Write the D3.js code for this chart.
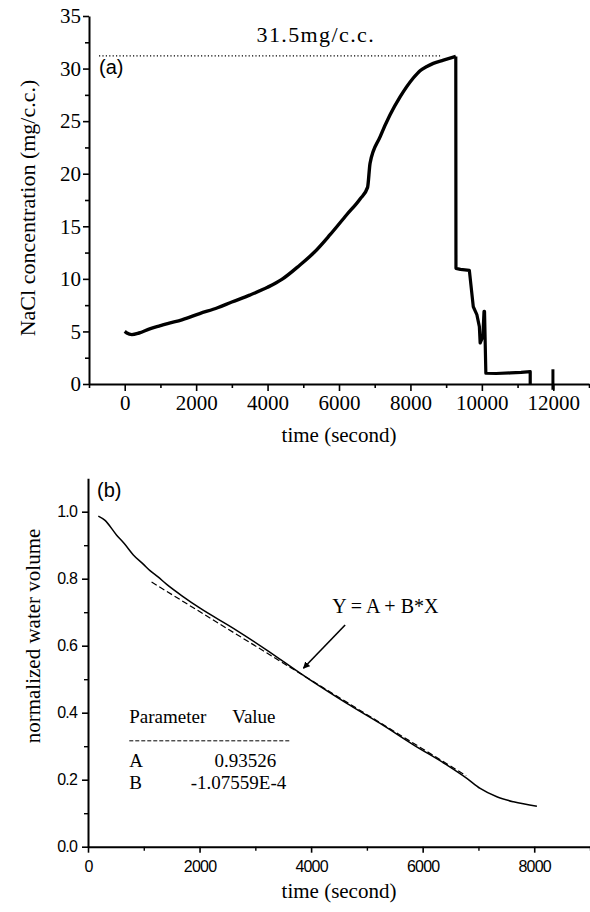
<!DOCTYPE html>
<html>
<head>
<meta charset="utf-8">
<script src="https://cdn.jsdelivr.net/npm/d3@7"></script>
<style>
  body { margin: 0; background: #fff; }
  svg { display: block; }
  .serif { font-family: "Liberation Serif", "Times New Roman", serif; }
  .sans { font-family: "Liberation Sans", Arial, sans-serif; }
</style>
</head>
<body>
<div id="chart"></div>
<script>
// (a) NaCl concentration vs time, [time s, mg/c.c.]
const naclRise = [
  [0, 5.0], [60, 4.85], [200, 4.7], [400, 4.85], [700, 5.25], [1000, 5.55],
  [1200, 5.75], [1600, 6.1], [2100, 6.7], [2600, 7.25], [3000, 7.8], [3500, 8.45],
  [4000, 9.2], [4400, 9.95], [4900, 11.3], [5300, 12.5], [5750, 14.2], [6215, 16.1],
  [6590, 17.6], [6800, 18.7], [6870, 21.0], [7150, 23.5], [7430, 25.6], [7710, 27.3],
  [8080, 29.1], [8270, 29.8], [8460, 30.2], [8640, 30.5], [8925, 30.8], [9270, 31.15]
];
const naclFall = [
  [9270, 31.15], [9275, 11.0], [9400, 10.9], [9650, 10.8], [9760, 7.35], [9860, 6.6],
  [9930, 5.45], [9952, 3.9], [10028, 4.5], [10060, 6.9], [10075, 6.9], [10112, 1.02],
  [10400, 1.0], [10800, 1.05], [11100, 1.1], [11354, 1.17], [11354, -0.1]
];
const naclStub = [[11990, 1.4], [11990, -0.55]];
const naclPeak = 31.2;
const naclPeakLabel = "31.5mg/c.c.";
const naclXMajor = [0, 2000, 4000, 6000, 8000, 10000, 12000];
const naclXMinor = [-1000, 1000, 3000, 5000, 7000, 9000, 11000, 13000];
const naclYMajor = [0, 5, 10, 15, 20, 25, 30, 35];
const naclYMinor = [2.5, 7.5, 12.5, 17.5, 22.5, 27.5, 32.5];

// (b) normalized water volume vs time
const volMeasured = [
  [185, 0.987], [300, 0.975], [514, 0.930], [650, 0.905], [813, 0.871], [1000, 0.842],
  [1112, 0.824], [1250, 0.806], [1411, 0.783], [1710, 0.746], [2009, 0.712], [2607, 0.652],
  [3205, 0.587], [3803, 0.518], [3982, 0.498], [4640, 0.428], [5238, 0.368], [5835, 0.304],
  [6433, 0.244], [6792, 0.204], [7031, 0.174], [7330, 0.149], [7629, 0.134], [8048, 0.121]
];
const volFit = [[1140, 0.790], [6780, 0.212]];
const fitParams = ["A", "B"];
const fitValues = ["0.93526", "-1.07559E-4"];
const volXMajor = [0, 2000, 4000, 6000, 8000];
const volXMinor = [1000, 3000, 5000, 7000, 9000];
const volYMajor = [0, 0.2, 0.4, 0.6, 0.8, 1.0];
const volYMinor = [0.1, 0.3, 0.5, 0.7, 0.9];

const width = 590, height = 912;
const svg = d3.select("#chart").append("svg")
    .attr("width", width)
    .attr("height", height);

function styleAxis(g, w) {
  g.attr("font-family", null);
  g.select(".domain").attr("stroke", "#000").attr("stroke-width", w);
  g.selectAll(".tick line").attr("stroke", "#000").attr("stroke-width", 1.6);
  g.selectAll(".tick text").attr("fill", "#000");
}

// ---------- panel (a)
const xa = d3.scaleLinear().domain([-1000, 13000]).range([89, 589]);
const ya = d3.scaleLinear().domain([0, 35]).range([384, 16]);

const gxa = svg.append("g")
    .attr("transform", `translate(0,${ya(0)})`)
    .attr("class", "serif")
    .call(d3.axisBottom(xa).tickValues(naclXMajor).tickFormat(d3.format("d"))
      .tickSize(7).tickPadding(4).tickSizeOuter(0))
    .style("font-size", "21px");
styleAxis(gxa, 2);
svg.append("g")
    .attr("transform", `translate(0,${ya(0)})`)
    .call(d3.axisBottom(xa).tickValues(naclXMinor).tickSize(4).tickFormat("").tickSizeOuter(0))
    .call(g => g.select(".domain").remove())
    .call(g => g.selectAll("line").attr("stroke-width", 1.6));

const gya = svg.append("g")
    .attr("transform", `translate(${xa(-1000)},0)`)
    .attr("class", "serif")
    .call(d3.axisLeft(ya).tickValues(naclYMajor).tickSize(6).tickPadding(2).tickSizeOuter(0))
    .style("font-size", "21px");
styleAxis(gya, 2);
svg.append("g")
    .attr("transform", `translate(${xa(-1000)},0)`)
    .call(d3.axisLeft(ya).tickValues(naclYMinor).tickSize(4).tickFormat("").tickSizeOuter(0))
    .call(g => g.select(".domain").remove())
    .call(g => g.selectAll("line").attr("stroke-width", 1.6));

svg.append("text")
    .attr("class", "serif")
    .attr("transform", `translate(35,208) rotate(-90)`)
    .attr("text-anchor", "middle")
    .style("font-size", "22px")
    .text("NaCl concentration (mg/c.c.)");

svg.append("text")
    .attr("class", "serif")
    .attr("x", (xa.range()[0] + xa.range()[1]) / 2)
    .attr("y", 442)
    .attr("text-anchor", "middle")
    .style("font-size", "21px")
    .text("time (second)");

// dotted guide at the peak
svg.append("line")
    .attr("x1", xa(-720)).attr("x2", xa(8830))
    .attr("y1", ya(naclPeak)).attr("y2", ya(naclPeak))
    .attr("stroke", "#000")
    .attr("stroke-width", 1.2)
    .attr("stroke-dasharray", "1.2,2.2");

svg.append("text")
    .attr("class", "serif")
    .attr("x", xa(3690))
    .attr("y", ya(naclPeak) - 14)
    .style("font-size", "22px")
    .style("letter-spacing", "1.4px")
    .text(naclPeakLabel);

svg.append("text")
    .attr("class", "sans")
    .attr("x", xa(-1000) + 10)
    .attr("y", 74)
    .style("font-size", "20px")
    .text("(a)");

const riseA = d3.line().x(d => xa(d[0])).y(d => ya(d[1])).curve(d3.curveMonotoneX);
const lineA = d3.line().x(d => xa(d[0])).y(d => ya(d[1]));
svg.append("path")
    .datum(naclRise)
    .attr("d", riseA)
    .attr("fill", "none")
    .attr("stroke", "#000")
    .attr("stroke-width", 3.4)
    .attr("stroke-linejoin", "round");
svg.append("path")
    .datum(naclFall)
    .attr("d", lineA)
    .attr("fill", "none")
    .attr("stroke", "#000")
    .attr("stroke-width", 3.2)
    .attr("stroke-linejoin", "round");
svg.append("path")
    .datum(naclStub)
    .attr("d", lineA)
    .attr("fill", "none")
    .attr("stroke", "#000")
    .attr("stroke-width", 3);

// ---------- panel (b)
const xb = d3.scaleLinear().domain([0, 9000]).range([88, 590]);
const yb = d3.scaleLinear().domain([0, 1.1]).range([846.7, 478.2]);

const gxb = svg.append("g")
    .attr("transform", `translate(0,${yb(0)})`)
    .attr("class", "sans")
    .call(d3.axisBottom(xb).tickValues(volXMajor).tickFormat(d3.format("d"))
      .tickSize(6).tickPadding(8).tickSizeOuter(0))
    .style("font-size", "16px")
    .style("letter-spacing", "-0.8px");
styleAxis(gxb, 2);
svg.append("g")
    .attr("transform", `translate(0,${yb(0)})`)
    .call(d3.axisBottom(xb).tickValues(volXMinor).tickSize(4).tickFormat("").tickSizeOuter(0))
    .call(g => g.select(".domain").remove())
    .call(g => g.selectAll("line").attr("stroke-width", 1.4));

const gyb = svg.append("g")
    .attr("transform", `translate(${xb(0)},0)`)
    .attr("class", "sans")
    .call(d3.axisLeft(yb).tickValues(volYMajor).tickSize(6).tickPadding(5)
      .tickFormat(d3.format(".1f")).tickSizeOuter(0))
    .style("font-size", "16px")
    .style("letter-spacing", "-0.8px");
styleAxis(gyb, 2);
svg.append("g")
    .attr("transform", `translate(${xb(0)},0)`)
    .call(d3.axisLeft(yb).tickValues(volYMinor).tickSize(4).tickFormat("").tickSizeOuter(0))
    .call(g => g.select(".domain").remove())
    .call(g => g.selectAll("line").attr("stroke-width", 1.4));

svg.append("text")
    .attr("class", "serif")
    .attr("transform", `translate(40,636) rotate(-90)`)
    .attr("text-anchor", "middle")
    .style("font-size", "21px")
    .text("normalized water volume");

svg.append("text")
    .attr("class", "serif")
    .attr("x", (xb.range()[0] + xb.range()[1]) / 2)
    .attr("y", 898)
    .attr("text-anchor", "middle")
    .style("font-size", "21px")
    .text("time (second)");

svg.append("text")
    .attr("class", "sans")
    .attr("x", xb(0) + 9)
    .attr("y", 497)
    .style("font-size", "20px")
    .text("(b)");

const lineB = d3.line().x(d => xb(d[0])).y(d => yb(d[1]));
svg.append("path")
    .datum(volFit)
    .attr("d", lineB)
    .attr("fill", "none")
    .attr("stroke", "#000")
    .attr("stroke-width", 1.2)
    .attr("stroke-dasharray", "6,3");
svg.append("path")
    .datum(volMeasured)
    .attr("d", lineB.curve(d3.curveMonotoneX))
    .attr("fill", "none")
    .attr("stroke", "#000")
    .attr("stroke-width", 1.5)
    .attr("stroke-linejoin", "round");

// fit equation + arrow
svg.append("defs").append("marker")
    .attr("id", "arrow")
    .attr("viewBox", "0 0 10 10")
    .attr("refX", 9).attr("refY", 5)
    .attr("markerWidth", 7).attr("markerHeight", 7)
    .attr("markerUnits", "userSpaceOnUse")
    .attr("orient", "auto")
  .append("path")
    .attr("d", "M0,0 L10,5 L0,10 Z")
    .attr("fill", "#000");

svg.append("text")
    .attr("class", "serif")
    .attr("x", xb(5330))
    .attr("y", yb(0.699))
    .attr("text-anchor", "middle")
    .style("font-size", "20px")
    .text("Y = A + B*X");

svg.append("line")
    .attr("x1", xb(4610)).attr("y1", yb(0.662))
    .attr("x2", xb(3862)).attr("y2", yb(0.5325))
    .attr("stroke", "#000")
    .attr("stroke-width", 1.6)
    .attr("marker-end", "url(#arrow)");

// parameter table
const tx = xb(740), ty = yb(0.368);
const table = svg.append("g").attr("class", "serif").style("font-size", "19px");
table.append("text").attr("x", tx).attr("y", ty).text("Parameter");
table.append("text").attr("x", tx + 103).attr("y", ty).text("Value");
table.append("line")
    .attr("x1", tx).attr("x2", tx + 160)
    .attr("y1", ty + 17.4).attr("y2", ty + 17.4)
    .attr("stroke", "#000")
    .attr("stroke-width", 1)
    .attr("stroke-dasharray", "4,2");
const valueRight = [147, 157];
fitParams.forEach((p, i) => {
  table.append("text").attr("x", tx).attr("y", ty + 44 + i * 22).text(p);
  table.append("text")
      .attr("x", tx + valueRight[i])
      .attr("y", ty + 44 + i * 22)
      .attr("text-anchor", "end")
      .text(fitValues[i]);
});
</script>
</body>
</html>
